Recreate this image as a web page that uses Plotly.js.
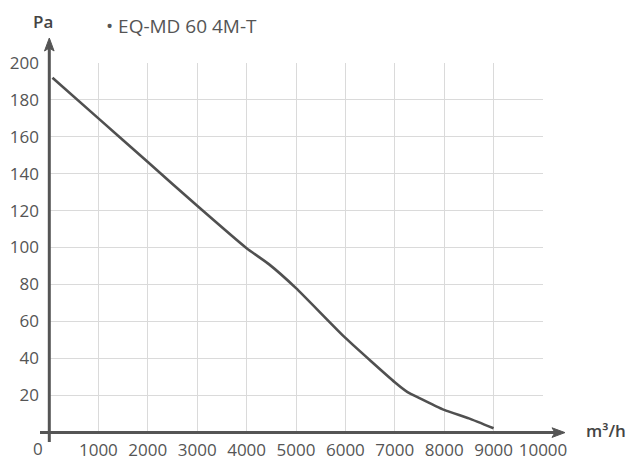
<!DOCTYPE html>
<html>
<head>
<meta charset="utf-8">
<script src="https://cdn.plot.ly/plotly-3.0.1.min.js"></script>
<style>html,body{margin:0;padding:0;background:#fff;}#chart{width:632px;height:474px;}</style>
</head>
<body>
<div id="chart"></div>
<script>
// Data
const flow = [70, 1000, 2000, 3000, 4000, 4450, 5000, 6000, 7000, 7250, 7500, 8000, 8500, 9000];
const pressure = [192, 170, 146.3, 122.6, 99.6, 91, 78, 51, 27, 21.8, 18.4, 12, 7.4, 2];
const xTicks = [1000, 2000, 3000, 4000, 5000, 6000, 7000, 8000, 9000, 10000];
const yTicks = [20, 40, 60, 80, 100, 120, 140, 160, 180, 200];
const seriesName = '• EQ-MD 60 4M-T';
const xUnit = 'm³/h';
const yUnit = 'Pa';

const W = 632, H = 474;
const M = {l: 49, r: 89, t: 63, b: 42};
const PW = W - M.l - M.r, PH = H - M.t - M.b;
const px = x => (x - M.l) / PW;          // pixel x -> paper
const py = y => (H - M.b - y) / PH;      // pixel y -> paper

const axisColor = '#555555';
const textColor = '#555555';
const font = 'Open Sans, sans-serif';

const trace = {
  x: flow, y: pressure, type: 'scatter', mode: 'lines',
  line: {color: '#505050', width: 2.6, shape: 'spline', smoothing: 0.5},
  hoverinfo: 'skip', showlegend: false
};

function arrowPath(tip, dir) {
  const L = 13, hw = 4.8, notch = 3;
  let pts;
  if (dir === 'right') {
    pts = [[tip[0], tip[1]], [tip[0] - L, tip[1] - hw], [tip[0] - L + notch, tip[1]], [tip[0] - L, tip[1] + hw]];
  } else {
    pts = [[tip[0], tip[1]], [tip[0] + hw, tip[1] + L], [tip[0], tip[1] + L - notch], [tip[0] - hw, tip[1] + L]];
  }
  return 'M ' + pts.map(p => px(p[0]).toFixed(5) + ',' + py(p[1]).toFixed(5)).join(' L ') + ' Z';
}

const axX = 49.3, axY = 432.6;
const shapes = [
  {type: 'line', xref: 'paper', yref: 'paper', x0: px(40), x1: px(556), y0: py(axY), y1: py(axY),
   line: {color: axisColor, width: 3}},
  {type: 'path', xref: 'paper', yref: 'paper', path: arrowPath([565, axY], 'right'),
   fillcolor: axisColor, line: {color: axisColor, width: 1}},
  {type: 'line', xref: 'paper', yref: 'paper', x0: px(axX), x1: px(axX), y0: py(442), y1: py(47),
   line: {color: axisColor, width: 3}},
  {type: 'path', xref: 'paper', yref: 'paper', path: arrowPath([axX, 38], 'up'),
   fillcolor: axisColor, line: {color: axisColor, width: 1}}
];

const annotations = [
  {text: seriesName, xref: 'paper', yref: 'paper', x: px(104), y: py(26), xanchor: 'left', yanchor: 'middle',
   showarrow: false, font: {family: font, size: 19, color: textColor}},
  {text: yUnit, xref: 'paper', yref: 'paper', x: px(42.5), y: py(22), xanchor: 'center', yanchor: 'middle',
   showarrow: false, font: {family: font, size: 17, color: '#444', weight: 600}},
  {text: xUnit, xref: 'paper', yref: 'paper', x: px(584), y: py(430), xanchor: 'left', yanchor: 'middle',
   showarrow: false, font: {family: font, size: 17, color: '#444', weight: 600}},
  {text: '0', xref: 'paper', yref: 'paper', x: px(38.3), y: py(449), xanchor: 'center', yanchor: 'middle',
   showarrow: false, font: {family: font, size: 17, color: textColor}}
];

const layout = {
  width: W, height: H,
  margin: M,
  paper_bgcolor: '#fff', plot_bgcolor: '#fff',
  showlegend: false,
  xaxis: {
    range: [0, 10000], tickvals: xTicks, ticktext: xTicks.map(String),
    showgrid: true, gridcolor: '#dadada', gridwidth: 1,
    zeroline: false, showline: false, ticks: '', ticklabelstandoff: 6,
    tickfont: {family: font, size: 17, color: textColor}, fixedrange: true
  },
  yaxis: {
    range: [0, 200], tickvals: yTicks, ticktext: yTicks.map(String),
    showgrid: true, gridcolor: '#dadada', gridwidth: 1,
    zeroline: false, showline: false, ticks: '', ticklabelstandoff: 9,
    tickfont: {family: font, size: 17, color: textColor}, fixedrange: true
  },
  shapes: shapes,
  annotations: annotations
};

Plotly.newPlot('chart', [trace], layout, {staticPlot: true, displayModeBar: false});
</script>
</body>
</html>
